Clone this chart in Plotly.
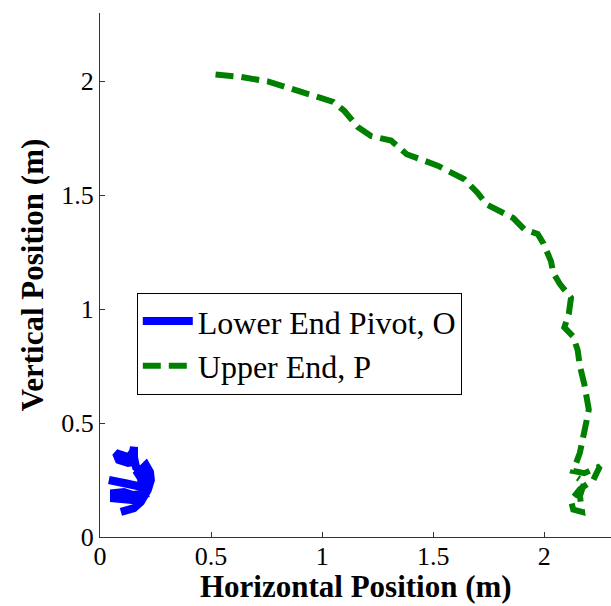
import plotly.graph_objects as go

# Lower End Pivot, O (blue scribble)
lower_x = [0.094, 0.153, 0.184, 0.215, 0.229, 0.225, 0.207, 0.184, 0.17, 0.184, 0.19, 0.12, 0.04,
           0.08, 0.184, 0.198, 0.148, 0.108, 0.063, 0.063, 0.094, 0.153, 0.19, 0.2, 0.21, 0.2,
           0.162, 0.153, 0.153, 0.148, 0.13, 0.094, 0.072, 0.085, 0.126, 0.16]
lower_y = [0.11, 0.127, 0.154, 0.206, 0.25, 0.285, 0.316, 0.294, 0.28, 0.259, 0.22, 0.235, 0.25,
           0.24, 0.22, 0.19, 0.184, 0.197, 0.193, 0.17, 0.167, 0.162, 0.17, 0.2, 0.25, 0.28,
           0.307, 0.35, 0.395, 0.373, 0.35, 0.36, 0.368, 0.338, 0.325, 0.33]

# Upper End, P (green dashed)
upper_x = [0.52, 0.63, 0.755, 0.86, 0.98, 1.05, 1.10, 1.16, 1.22, 1.31, 1.38, 1.52, 1.64, 1.70,
           1.74, 1.80, 1.86, 1.91, 1.97, 1.995, 2.03, 2.04, 2.07, 2.12, 2.11, 2.09, 2.13, 2.15,
           2.16, 2.18, 2.20, 2.19, 2.17, 2.16, 2.13, 2.18, 2.25, 2.22, 2.16, 2.12, 2.13, 2.17,
           2.16, 2.18, 2.15]
upper_y = [2.03, 2.02, 2.00, 1.97, 1.93, 1.91, 1.87, 1.80, 1.76, 1.74, 1.68, 1.63, 1.57, 1.51,
           1.46, 1.43, 1.40, 1.35, 1.33, 1.29, 1.21, 1.16, 1.11, 1.05, 0.98, 0.92, 0.88, 0.82,
           0.75, 0.67, 0.56, 0.51, 0.43, 0.37, 0.29, 0.28, 0.31, 0.25, 0.21, 0.16, 0.12, 0.11,
           0.18, 0.24, 0.26]

tick_vals = [0, 0.5, 1, 1.5, 2]
tick_text = ["0", "0.5", "1", "1.5", "2"]

x_title = "Horizontal Position (m)"
y_title = "Vertical Position (m)"

serif = "Liberation Serif"

fig = go.Figure()
fig.add_trace(go.Scatter(x=lower_x, y=lower_y, mode="lines", name="Lower End Pivot, O",
                         line=dict(color="#0000ff", width=8)))
fig.add_trace(go.Scatter(x=upper_x, y=upper_y, mode="lines", name="Upper End, P",
                         line=dict(color="#008000", width=6, dash="18px,8px")))

axis_common = dict(
    showgrid=False, zeroline=False, showline=True, linecolor="#333333", linewidth=1,
    ticks="inside", ticklen=5, tickcolor="#333333", tickwidth=1,
    tickvals=tick_vals, ticktext=tick_text,
    tickfont=dict(family=serif, size=26, color="black"),
    mirror=False,
)

fig.update_layout(
    width=611, height=606,
    margin=dict(l=100, r=0, t=13, b=69),
    paper_bgcolor="white", plot_bgcolor="white",
    xaxis=dict(range=[0, 2.3], **axis_common, ticklabelstandoff=-4),
    yaxis=dict(range=[0, 2.3], **axis_common,
               title=dict(text="<b>" + y_title + "</b>",
                          font=dict(family=serif, size=31, color="black"), standoff=8)),
    legend=dict(x=0.072, y=0.466, xanchor="left", yanchor="top",
                bgcolor="white", bordercolor="black", borderwidth=1,
                font=dict(family=serif, size=32, color="black"),
                itemwidth=50, tracegroupgap=0),
    showlegend=True,
)

fig.add_annotation(text="<b>" + x_title + "</b>", xref="paper", yref="paper",
                   x=0.5, y=-0.1317, xanchor="center", yanchor="bottom", showarrow=False,
                   font=dict(family=serif, size=31, color="black"))

fig.write_html("out.html")
